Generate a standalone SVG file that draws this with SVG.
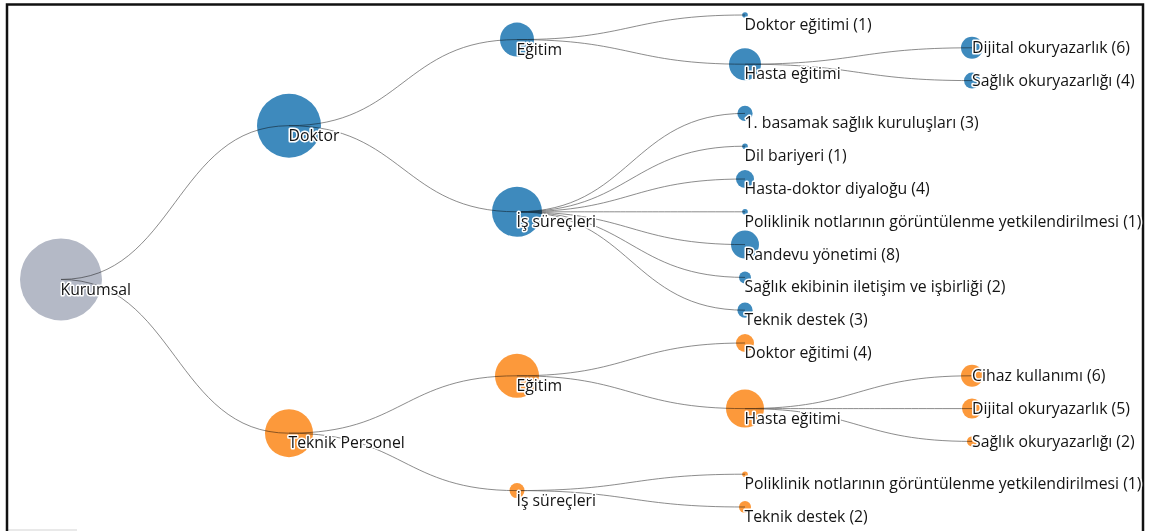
<svg xmlns="http://www.w3.org/2000/svg" width="1150" height="531" viewBox="0 0 1150 531">
  <style>
    .link { fill: none; stroke: #666; stroke-opacity: 0.75; stroke-width: 1; }
    .node circle { mix-blend-mode: multiply; }
    .root circle { fill: #b4b9c6; }
    .doc circle { fill: #3e8abd; }
    .tech circle { fill: #fc993b; }
    .node text {
      font-family: "Open Sans", "Noto Sans", "Liberation Sans", sans-serif;
      font-size: 15.8px;
      fill: #141414;
      stroke: #fff;
      stroke-width: 3px;
      stroke-linejoin: round;
      paint-order: stroke;
    }
  </style>

  <rect x="0" y="0" width="1150" height="531" fill="#fff"/>
  <rect x="8" y="529" width="69" height="2" fill="#e9e9e9"/>
  <!-- frame -->
  <rect x="7" y="4.5" width="1136" height="540" fill="none" stroke="#111" stroke-width="2.5"/>

  <!-- connectors: horizontal cubic links, parent centre to child centre -->
  <g id="connectors">
    <path class="link" d="M61,279.45C175,279.45 175,125.7 289,125.7"/>
    <path class="link" d="M61,279.45C175,279.45 175,433.2 289,433.2"/>

    <path class="link" d="M289,125.7C403,125.7 403,39.6 517,39.6"/>
    <path class="link" d="M289,125.7C403,125.7 403,211.8 517,211.8"/>

    <path class="link" d="M517,39.6C631,39.6 631,15 745,15"/>
    <path class="link" d="M517,39.6C631,39.6 631,64.2 745,64.2"/>
    <path class="link" d="M745,64.2C858.5,64.2 858.5,47.8 972,47.8"/>
    <path class="link" d="M745,64.2C858.5,64.2 858.5,80.6 972,80.6"/>

    <path class="link" d="M517,211.8C631,211.8 631,113.4 745,113.4"/>
    <path class="link" d="M517,211.8C631,211.8 631,146.2 745,146.2"/>
    <path class="link" d="M517,211.8C631,211.8 631,179 745,179"/>
    <path class="link" d="M517,211.8C631,211.8 631,211.8 745,211.8"/>
    <path class="link" d="M517,211.8C631,211.8 631,244.6 745,244.6"/>
    <path class="link" d="M517,211.8C631,211.8 631,277.4 745,277.4"/>
    <path class="link" d="M517,211.8C631,211.8 631,310.2 745,310.2"/>

    <path class="link" d="M289,433.2C403,433.2 403,375.8 517,375.8"/>
    <path class="link" d="M289,433.2C403,433.2 403,490.6 517,490.6"/>

    <path class="link" d="M517,375.8C631,375.8 631,343 745,343"/>
    <path class="link" d="M517,375.8C631,375.8 631,408.6 745,408.6"/>
    <path class="link" d="M745,408.6C858.5,408.6 858.5,375.8 972,375.8"/>
    <path class="link" d="M745,408.6C858.5,408.6 858.5,408.6 972,408.6"/>
    <path class="link" d="M745,408.6C858.5,408.6 858.5,441.4 972,441.4"/>

    <path class="link" d="M517,490.6C631,490.6 631,474.2 745,474.2"/>
    <path class="link" d="M517,490.6C631,490.6 631,507 745,507"/>
  </g>

  <!-- nodes -->
  <g id="nodes">
    <g id="kurumsal" class="node root">
      <circle cx="61" cy="279.45" r="41"/>
      <text x="60.5" y="294.5">Kurumsal</text>
    </g>

    <g id="doktor" class="node doc">
      <circle cx="289" cy="125.7" r="32"/>
      <text x="288.5" y="140.7">Doktor</text>
    </g>
    <g id="doktor-egitim" class="node doc">
      <circle cx="517" cy="39.6" r="17"/>
      <text x="516.5" y="54.6">Eğitim</text>
    </g>
    <g id="doktor-doktor-egitimi" class="node doc">
      <circle cx="745" cy="15" r="2.8"/>
      <text x="744.5" y="30">Doktor eğitimi (1)</text>
    </g>
    <g id="doktor-hasta-egitimi" class="node doc">
      <circle cx="745" cy="64.2" r="16"/>
      <text x="744.5" y="79.2">Hasta eğitimi</text>
    </g>
    <g id="doktor-dijital-okuryazarlik" class="node doc">
      <circle cx="972" cy="47.8" r="11"/>
      <text x="972" y="53.3">Dijital okuryazarlık (6)</text>
    </g>
    <g id="doktor-saglik-okuryazarligi" class="node doc">
      <circle cx="972" cy="80.6" r="8"/>
      <text x="972" y="86.1">Sağlık okuryazarlığı (4)</text>
    </g>
    <g id="doktor-is-surecleri" class="node doc">
      <circle cx="517" cy="211.8" r="25"/>
      <text x="516.5" y="226.8">İş süreçleri</text>
    </g>
    <g id="birinci-basamak" class="node doc">
      <circle cx="745" cy="113.4" r="7.6"/>
      <text x="744.5" y="128.4">1. basamak sağlık kuruluşları (3)</text>
    </g>
    <g id="dil-bariyeri" class="node doc">
      <circle cx="745" cy="146.2" r="2.8"/>
      <text x="744.5" y="161.2">Dil bariyeri (1)</text>
    </g>
    <g id="hasta-doktor-diyalogu" class="node doc">
      <circle cx="745" cy="179" r="9"/>
      <text x="744.5" y="194">Hasta-doktor diyaloğu (4)</text>
    </g>
    <g id="doktor-poliklinik-notlari" class="node doc">
      <circle cx="745" cy="211.8" r="2.8"/>
      <text x="744.5" y="226.8">Poliklinik notlarının görüntülenme yetkilendirilmesi (1)</text>
    </g>
    <g id="randevu-yonetimi" class="node doc">
      <circle cx="745" cy="244.6" r="14"/>
      <text x="744.5" y="259.6">Randevu yönetimi (8)</text>
    </g>
    <g id="saglik-ekibi" class="node doc">
      <circle cx="745" cy="277.4" r="6"/>
      <text x="744.5" y="292.4">Sağlık ekibinin iletişim ve işbirliği (2)</text>
    </g>
    <g id="doktor-teknik-destek" class="node doc">
      <circle cx="745" cy="310.2" r="7.6"/>
      <text x="744.5" y="325.2">Teknik destek (3)</text>
    </g>

    <g id="teknik-personel" class="node tech">
      <circle cx="289" cy="433.2" r="24"/>
      <text x="288.5" y="448.2">Teknik Personel</text>
    </g>
    <g id="tp-egitim" class="node tech">
      <circle cx="517" cy="375.8" r="22"/>
      <text x="516.5" y="390.8">Eğitim</text>
    </g>
    <g id="tp-doktor-egitimi" class="node tech">
      <circle cx="745" cy="343" r="9"/>
      <text x="744.5" y="358">Doktor eğitimi (4)</text>
    </g>
    <g id="tp-hasta-egitimi" class="node tech">
      <circle cx="745" cy="408.6" r="19"/>
      <text x="744.5" y="423.6">Hasta eğitimi</text>
    </g>
    <g id="cihaz-kullanimi" class="node tech">
      <circle cx="972" cy="375.8" r="11"/>
      <text x="972" y="381.3">Cihaz kullanımı (6)</text>
    </g>
    <g id="tp-dijital-okuryazarlik" class="node tech">
      <circle cx="972" cy="408.6" r="10"/>
      <text x="972" y="414.1">Dijital okuryazarlık (5)</text>
    </g>
    <g id="tp-saglik-okuryazarligi" class="node tech">
      <circle cx="972" cy="441.4" r="5"/>
      <text x="972" y="446.9">Sağlık okuryazarlığı (2)</text>
    </g>
    <g id="tp-is-surecleri" class="node tech">
      <circle cx="517" cy="490.6" r="7.5"/>
      <text x="516.5" y="505.6">İş süreçleri</text>
    </g>
    <g id="tp-poliklinik-notlari" class="node tech">
      <circle cx="745" cy="474.2" r="2.8"/>
      <text x="744.5" y="489.2">Poliklinik notlarının görüntülenme yetkilendirilmesi (1)</text>
    </g>
    <g id="tp-teknik-destek" class="node tech">
      <circle cx="745" cy="507" r="6"/>
      <text x="744.5" y="522">Teknik destek (2)</text>
    </g>
  </g>
</svg>
